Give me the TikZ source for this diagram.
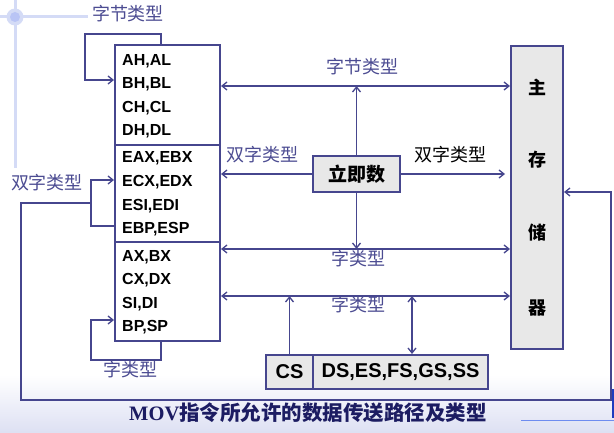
\documentclass[tikz,border=0pt]{standalone}
\usepackage{fontspec}
\setmainfont{Liberation Serif}
\setsansfont{Liberation Sans}
\newfontfamily\cjk{Noto Sans CJK SC}
\usetikzlibrary{arrows.meta,calc}
\definecolor{ln}{HTML}{46468E}
\definecolor{lbl}{HTML}{4C4C92}
\definecolor{boxfill}{HTML}{E8E8E8}
\definecolor{deco}{HTML}{D4DBF6}
\definecolor{decodark}{HTML}{B9C4F5}
\definecolor{bgbot}{HTML}{DDE0F3}
\definecolor{bluel}{HTML}{6E8CF0}
\definecolor{blued}{HTML}{1E3CBE}
\definecolor{ttl}{HTML}{1C1C62}
\tikzset{
  line/.style={draw=ln, line width=2pt},
  conn/.style={draw=ln, line width=1.8pt},
  tip/.style={-{Straight Barb[length=5pt,width=8pt,line width=1.3pt]}},
  dtip/.style={{Straight Barb[length=5pt,width=8pt,line width=1.3pt]}-{Straight Barb[length=5pt,width=8pt,line width=1.3pt]}},
  reglbl/.style={anchor=west, font=\sffamily\bfseries\fontsize{16}{17}\selectfont, text=black, inner sep=0pt},
  cjklbl/.style={font=\cjk\fontsize{18}{20}\selectfont, text=lbl, inner sep=0pt},
  memch/.style={font=\cjk\bfseries\fontsize{18}{20}\selectfont, text=black, inner sep=0pt},
  gbox/.style={line, fill=boxfill, inner sep=0pt},
}
\begin{document}
\begin{tikzpicture}[x=1pt,y=-1pt]
\useasboundingbox (0,0) rectangle (614,433);
% background decoration
\fill[white] (0,0) rectangle (614,433);
\shade[top color=white, bottom color=bgbot] (0,375) rectangle (614,433);
\draw[deco, line width=3pt] (15,0) -- (15,168);
\draw[deco, line width=3pt] (0,17) -- (88,17);
\fill[deco] (15,17) circle (8.5);
\fill[decodark] (15,17) circle (5);
\draw[bluel, line width=1pt] (521,420) -- (614,420);
\draw[blued, line width=1.2pt] (613,389) -- (613,418);

% register box
\node[line, fill=white, minimum width=105pt, minimum height=296pt, inner sep=0pt] (reg) at (167.5,193) {};
\draw[line width=1.3pt, ln] (115,145) -- (220,145);
\draw[line width=1.3pt, ln] (115,242) -- (220,242);
\node[reglbl] (r1) at (122,61) {AH,AL};
\node[reglbl] (r2) at (122,84.5) {BH,BL};
\node[reglbl] (r3) at (122,108) {CH,CL};
\node[reglbl] (r4) at (122,131.5) {DH,DL};
\node[reglbl] (r5) at (122,158) {EAX,EBX};
\node[reglbl] (r6) at (122,182) {ECX,EDX};
\node[reglbl] (r7) at (122,206) {ESI,EDI};
\node[reglbl] (r8) at (122,229) {EBP,ESP};
\node[reglbl] (r9) at (122,257) {AX,BX};
\node[reglbl] (r10) at (122,280.5) {CX,DX};
\node[reglbl] (r11) at (122,304) {SI,DI};
\node[reglbl] (r12) at (122,327.5) {BP,SP};

% memory
\node[gbox, minimum width=52pt, minimum height=303pt] (mem) at (537,197.5) {};
\node[memch] (m1) at (537,87) {主};
\node[memch] (m2) at (537,160) {存};
\node[memch] (m3) at (537,233) {储};
\node[memch] (m4) at (537,308) {器};

% immediate
\node[gbox, minimum width=87pt, minimum height=36pt, font=\cjk\bfseries\fontsize{19}{20}\selectfont] (imm) at (356.5,174) {立即数};

% segment registers
\node[gbox, minimum width=47pt, minimum height=34pt, font=\sffamily\bfseries\fontsize{20}{22}\selectfont] (cs) at (289.5,372) {CS};
\node[gbox, minimum width=175pt, minimum height=34pt, font=\sffamily\bfseries\fontsize{20}{22}\selectfont] (ds) at (400.5,372) {DS,ES,FS,GS,SS};

% horizontal levels
\coordinate (yb) at (0,86);
\coordinate (yw1) at (0,249);
\coordinate (yw2) at (0,296);
\coordinate (dsx) at (412,0);

\draw[conn, dtip] (reg.east |- yb) -- (mem.west |- yb);
\draw[conn, tip] (imm.north) -- (imm.north |- yb);
\draw[conn, tip] (imm.west) -- (reg.east |- imm.west);
\draw[conn, tip, shorten >=5pt] (imm.east) -- (mem.west |- imm.east);
\draw[conn, dtip] (reg.east |- yw1) -- (mem.west |- yw1);
\draw[conn, tip] (imm.south) -- (imm.south |- yw1);
\draw[conn, dtip] (reg.east |- yw2) -- (mem.west |- yw2);
\draw[conn, tip] (cs.north) -- (cs.north |- yw2);
\draw[conn, dtip] (ds.north -| dsx) -- (dsx |- yw2);

% loops
\coordinate (t0) at (161,45);
\draw[conn, tip] (t0) -- (161,34) -- (85,34) -- (85,80) -- (reg.west |- 0,80);
\draw[conn, tip] (reg.west |- 0,226) -- (91,226) -- (91,180) -- (reg.west |- 0,180);
\draw[conn, tip] (91,203) -- (21,203) -- (21,400) -- (611,400) -- (611,192) -- (mem.east |- 0,192);
\draw[conn, tip] (161,341) -- (161,360) -- (91,360) -- (91,320) -- (reg.west |- 0,320);

% labels
\node[cjklbl] (l1) at (128,14) {字节类型};
\node[cjklbl] (l2) at (47,183) {双字类型};
\node[cjklbl] (l3) at (130,370) {字类型};
\node[cjklbl] (l4) at (362,67) {字节类型};
\node[cjklbl] (l5) at (262,155) {双字类型};
\node[cjklbl, text=black] (l6) at (450,155) {双字类型};
\node[cjklbl] (l7) at (358,259) {字类型};
\node[cjklbl] (l8) at (358,305) {字类型};

% title
\node[text=ttl, inner sep=0pt] (title) at (308,413) {\fontsize{20.5}{22}\selectfont\bfseries MOV\cjk 指令所允许的数据传送路径及类型};
\end{tikzpicture}
\end{document}
